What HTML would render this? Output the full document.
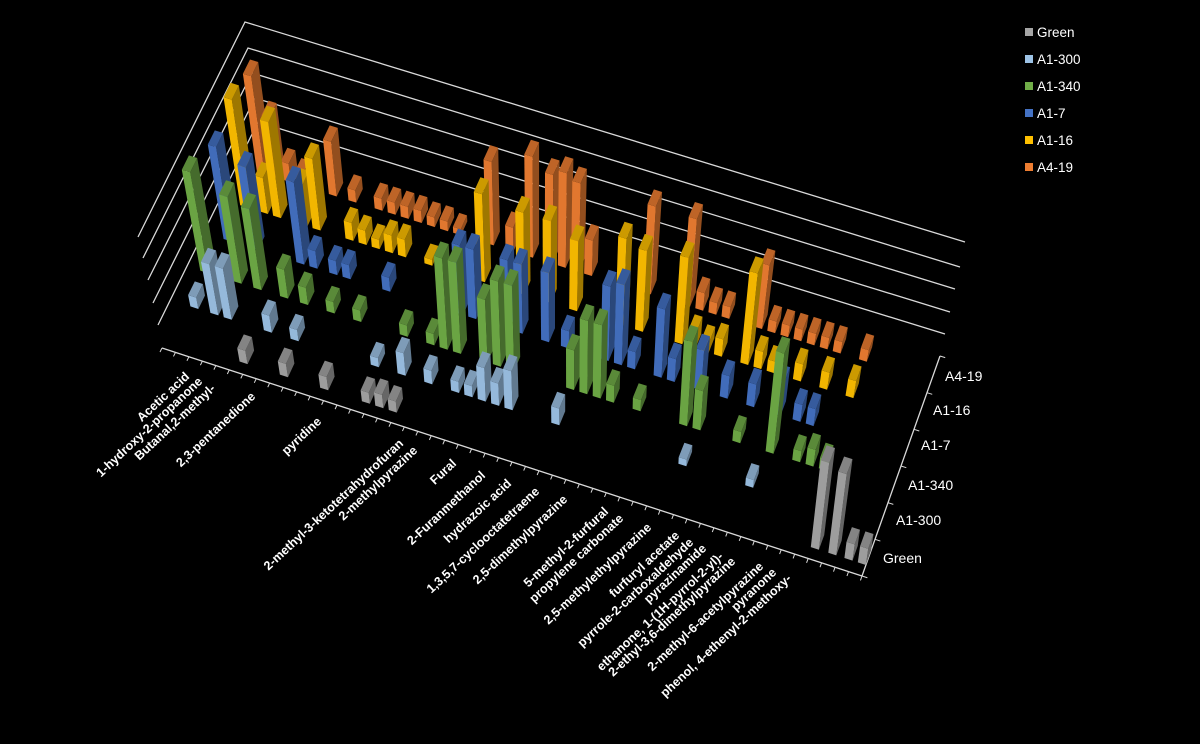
<!DOCTYPE html>
<html><head><meta charset="utf-8"><style>
html,body{margin:0;padding:0;background:#000;width:1200px;height:744px;overflow:hidden}
svg text{font-family:"Liberation Sans",sans-serif;fill:#fff}
</style></head><body>
<svg id="s" width="1200" height="744" xmlns="http://www.w3.org/2000/svg">
<rect width="1200" height="744" fill="#000"/>
<g id="grid" stroke="#d9d9d9" stroke-width="1.3" fill="none">
<polyline points="138,237 245,22 965,242"/>
<polyline points="143,258 248,48 960,267"/>
<polyline points="148,280 252,73 955,289"/>
<polyline points="153,303 255,98 950,312"/>
<polyline points="158,325 258,122 945,334"/>
<polyline points="162,348 862,576"/>
<polyline points="862,576 940,356"/>
</g>
<g id="ticks" stroke="#d9d9d9" stroke-width="1"></g>
<g id="bars"></g>
<g font-size="12.5" font-weight="bold" id="labels"></g>
<g font-size="14">
<text x="945" y="381">A4-19</text>
<text x="933" y="415">A1-16</text>
<text x="921" y="450">A1-7</text>
<text x="908" y="490">A1-340</text>
<text x="896" y="525">A1-300</text>
<text x="883" y="563">Green</text>
</g>
<g font-size="13.5">
<rect x="1025" y="28" width="8" height="8" fill="#a5a5a5"/><text x="1037" y="37">Green</text>
<rect x="1025" y="55" width="8" height="8" fill="#9dc3e6"/><text x="1037" y="64">A1-300</text>
<rect x="1025" y="82" width="8" height="8" fill="#70ad47"/><text x="1037" y="91">A1-340</text>
<rect x="1025" y="109" width="8" height="8" fill="#4472c4"/><text x="1037" y="118">A1-7</text>
<rect x="1025" y="136" width="8" height="8" fill="#ffc000"/><text x="1037" y="145">A1-16</text>
<rect x="1025" y="163" width="8" height="8" fill="#ed7d31"/><text x="1037" y="172">A4-19</text>
</g>
</svg>
<script>
var NS="http://www.w3.org/2000/svg";
var FL=[162,348],FR=[862,576],BR=[940,356],BL=[262,146];
var HFL=[-24,-111],HFR=[15,-108],HBR=[25,-114],HBL=[-17,-124];
function bl(A,B,C,D,a,b){return[(1-a)*(1-b)*A[0]+a*(1-b)*B[0]+a*b*C[0]+(1-a)*b*D[0],(1-a)*(1-b)*A[1]+a*(1-b)*B[1]+a*b*C[1]+(1-a)*b*D[1]];}
function P(u,v,h){var a=u/52,b=v/6;var f=bl(FL,FR,BR,BL,a,b),hv=bl(HFL,HFR,HBR,HBL,a,b);return[f[0]+h*hv[0],f[1]+h*hv[1]];}
function poly(g,pts,fill){var p=document.createElementNS(NS,"polygon");p.setAttribute("points",pts.map(function(q){return q[0].toFixed(1)+","+q[1].toFixed(1)}).join(" "));p.setAttribute("fill",fill);g.appendChild(p);}
function shade(c,k){var r=parseInt(c.substr(1,2),16),g=parseInt(c.substr(3,2),16),b=parseInt(c.substr(5,2),16);function f(x){x=Math.round(k>1?x+(255-x)*(k-1):x*k);return Math.max(0,Math.min(255,x));}return"rgb("+f(r)+","+f(g)+","+f(b)+")";}
var cols=["#a5a5a5","#9dc3e6","#70ad47","#4472c4","#ffc000","#ed7d31"];
var D=[
[[5.4,.12],[8.4,.12],[11.4,.12],[14.5,.1],[15.5,.12],[16.5,.1],[47.9,.8],[49.2,.75],[50.4,.15],[51.4,.15]],
[[.5,.1],[2,.45],[3,.45],[6,.15],[8,.1],[14,.08],[16,.2],[18,.12],[20,.1],[21,.1],[22,.3],[23,.2],[24,.35],[27.5,.15],[37,.06],[42,.07]],
[[0,.87],[2.5,.75],[4,.7],[6,.25],[7.5,.15],[9.5,.1],[11.5,.1],[15,.1],[17,.1],[18,.8],[19,.8],[21,.55],[22,.75],[23,.75],[27.5,.35],[28.5,.65],[29.5,.65],[30.5,.15],[32.5,.1],[36,.75],[37,.35],[40,.1],[42.5,.9],[44.5,.1],[45.5,.15],[46.5,.1]],
[[.5,.8],[2.5,.7],[6,.7],[7,.15],[8.5,.12],[9.5,.12],[12.5,.12],[18,.6],[19,.6],[21.5,.6],[22.5,.6],[24.5,.6],[26,.15],[29,.65],[30,.7],[31,.15],[33,.6],[34,.2],[36,.35],[38,.2],[40,.2],[42,.3],[43.5,.15],[44.5,.15]],
[[.5,.9],[2,.3],[3,.8],[5,.35],[6,.6],[8.5,.15],[9.5,.12],[10.5,.08],[11.5,.15],[12.5,.15],[14.5,.05],[18.5,.75],[21.5,.7],[23.5,.7],[25.5,.6],[29,.75],[30.5,.7],[33.5,.75],[34.5,.15],[35.5,.1],[36.5,.15],[38.5,.8],[39.5,.15],[40.5,.1],[42.5,.15],[44.5,.15],[46.5,.15]],
[[.5,.8],[1.5,.5],[2.5,.15],[3.5,.1],[6,.45],[7.5,.1],[9.5,.1],[10.5,.1],[11.5,.1],[12.5,.1],[13.5,.08],[14.5,.08],[15.5,.05],[18,.7],[19.5,.2],[21,.85],[22.5,.75],[23.5,.8],[24.5,.75],[25.5,.3],[30,.75],[33,.75],[34,.15],[35,.1],[36,.1],[38.5,.55],[39.5,.1],[40.5,.1],[41.5,.1],[42.5,.1],[43.5,.1],[44.5,.1],[46.5,.1]]
];
var g=document.getElementById("bars");
for(var s=5;s>=0;s--){var c=cols[s];var d=D[s].slice().sort(function(a,b){return a[0]-b[0]});
 for(var i=0;i<d.length;i++){var u0=d[i][0],u1=u0+0.6,v0=s+0.3,v1=s+0.7,h=d[i][1];
  poly(g,[P(u1,v0,0),P(u1,v1,0),P(u1,v1,h),P(u1,v0,h)],shade(c,0.62));
  poly(g,[P(u0,v0,0),P(u1,v0,0),P(u1,v0,h),P(u0,v0,h)],shade(c,0.95));
  poly(g,[P(u0,v0,h),P(u1,v0,h),P(u1,v1,h),P(u0,v1,h)],shade(c,0.8));
 }}
var t=document.getElementById("ticks");
function line(a,b){var l=document.createElementNS(NS,"line");l.setAttribute("x1",a[0]);l.setAttribute("y1",a[1]);l.setAttribute("x2",b[0]);l.setAttribute("y2",b[1]);t.appendChild(l);}
for(var k=0;k<=52;k++){var a=P(k,0,0),b=P(k,-0.12,0);line(a,b);}
for(var k=0;k<=6;k++){var a=P(52,k,0),b=P(52.4,k,0);line(a,b);}
var L=[["Acetic acid",186,373],["1-hydroxy-2-propanone",199,378],["Butanal,2-methyl-",212,385],["2,3-pentanedione",252,393],["pyridine",318,418],["2-methyl-3-ketotetrahydrofuran",400,440],["2-methylpyrazine",414,447],["Fural",453,460],["2-Furanmethanol",482,472],["hydrazoic acid",508,480],["1,3,5,7-cyclooctatetraene",536,488],["2,5-dimethylpyrazine",564,496],["5-methyl-2-furfural",605,508],["propylene carbonate",620,515],["2,5-methylethylpyrazine",648,524],["furfuryl acetate",676,532],["pyrrole-2-carboxaldehyde",690,539],["pyrazinamide",703,545],["ethanone, 1-(1H-pyrrol-2-yl)-",720,553],["2-ethyl-3,6-dimethylpyrazine",732,558],["2-methyl-6-acetylpyrazine",760,563],["pyranone",773,569],["phenol, 4-ethenyl-2-methoxy-",788,575]];
var lg=document.getElementById("labels");
L.forEach(function(q){var e=document.createElementNS(NS,"text");e.setAttribute("x",q[1]);e.setAttribute("y",q[2]+6);e.setAttribute("text-anchor","end");e.setAttribute("transform","rotate(-43 "+q[1]+" "+q[2]+")");e.textContent=q[0];lg.appendChild(e);});
</script>
</body></html>
